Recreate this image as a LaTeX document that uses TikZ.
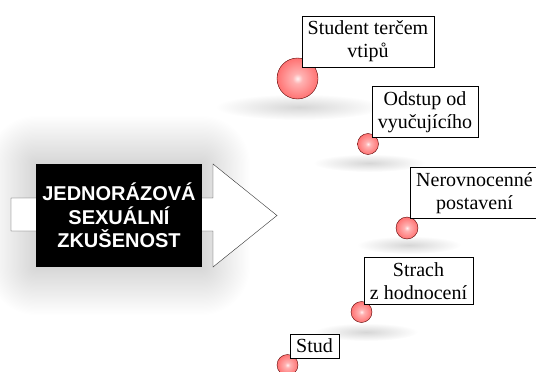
\documentclass[tikz,border=0pt]{standalone}
\usepackage{fontspec}
\setmainfont{Liberation Serif}
\setsansfont{Liberation Sans}
\usepackage{tikz}
\usetikzlibrary{positioning}
\pgfdeclareradialshading{pinkball}{\pgfpoint{0bp}{0bp}}{color(0bp)=(red!5); color(6bp)=(red!30); color(30bp)=(red!62); color(50bp)=(red!68)}

\begin{document}
\begin{tikzpicture}[
        x=1pt, y=-1pt,
        ballnode/.style={circle, shading=pinkball, draw=red!35!black, thin, inner sep=0pt},
        labelnode/.style={rectangle, draw=black, thin, fill=white, align=center, inner xsep=6pt, inner ysep=5pt, font=\fontsize{20}{23}\selectfont},
        mainnode/.style={rectangle, fill=black, text=white, align=center, minimum width=166pt, minimum height=103pt, font=\sffamily\bfseries\fontsize{20}{23.5}\selectfont},
        floorshadow/.style={inner color=black!16, outer color=white}
    ]
        \useasboundingbox (0,0) rectangle (536,372);

        % Glow behind the box
        \foreach \g in {1,...,40}
            \fill[black, opacity=0.005, rounded corners={\g*1.2pt}] ({36-\g*1.2},{164-\g*1.2}) rectangle ({202+\g*1.2},{267+\g*1.2});

        % Arrow outline
        \draw[fill=white, draw=black!80, thin] (11,198) -- (213,198) -- (213,164) -- (277,215.5) -- (213,267) -- (213,231) -- (11,231) -- cycle;

        \node [mainnode] (Zkusenost) at (119,215.5) {JEDNORÁZOVÁ\\SEXUÁLNÍ\\ZKUŠENOST};

        % Shadows under the balls
        \shade[floorshadow] (299,107) ellipse (84 and 13);
        \shade[floorshadow] (369,163) ellipse (56 and 9);
        \shade[floorshadow] (409,245) ellipse (52 and 9);
        \shade[floorshadow] (366,332) ellipse (52 and 9);

        % Balls
        \node [ballnode, minimum size=41pt] (Ball1) at (297.5,78.5) {};
        \node [ballnode, minimum size=21pt] (Ball2) at (368,144) {};
        \node [ballnode, minimum size=22pt] (Ball3) at (407,228) {};
        \node [ballnode, minimum size=21pt] (Ball4) at (361.5,312) {};
        \node [ballnode, minimum size=21pt] (Ball5) at (287.5,365) {};

        % Labels
        \node [labelnode] (Label1) at (368,41.5) {Student terčem\\vtipů};
        \node [labelnode] (Label2) at (425,112) {Odstup od\\vyučujícího};
        \node [labelnode] (Label3) at (474.5,193) {Nerovnocenné\\postavení};
        \node [labelnode] (Label4) at (418.5,281) {Strach\\z hodnocení};
        \node [labelnode] (Label5) at (314.5,346) {Stud};

    \end{tikzpicture}
\end{document}
